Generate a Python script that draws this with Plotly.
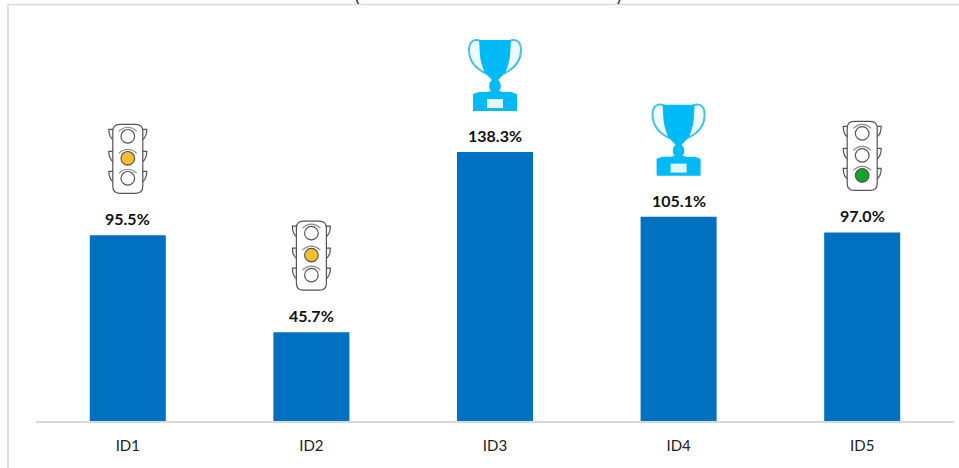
import plotly.graph_objects as go

categories = ["ID1", "ID2", "ID3", "ID4", "ID5"]
values = [95.5, 45.7, 138.3, 105.1, 97.0]
value_labels = ["95.5%", "45.7%", "138.3%", "105.1%", "97.0%"]
icons = ["amber", "amber", "trophy", "trophy", "green"]

BAR = "#0070C0"
TROPHY = "#00BAF8"
AMBER = "#F6C02C"
GREEN = "#12A52A"
EDGE = "#555555"
GRID = "#D9D9D9"
FONT = "Lato, 'Open Sans', sans-serif"


def anchored(cat, val, path, **kw):
    return dict(type="path", path=path, xref="x", yref="y",
                xsizemode="pixel", ysizemode="pixel",
                xanchor=cat, yanchor=val, layer="above", **kw)


def circle(cx, cy, r):
    k = 0.5523 * r
    return (f"M{cx - r},{cy} C{cx - r},{cy + k} {cx - k},{cy + r} {cx},{cy + r} "
            f"C{cx + k},{cy + r} {cx + r},{cy + k} {cx + r},{cy} "
            f"C{cx + r},{cy - k} {cx + k},{cy - r} {cx},{cy - r} "
            f"C{cx - k},{cy - r} {cx - r},{cy - k} {cx - r},{cy} Z")


def traffic_light(cat, val, lit):
    shapes = []
    line = dict(color=EDGE, width=1.2)
    centers = [99, 77, 57]
    for cy in centers:
        for s in (-1, 1):
            p = (f"M{s * 14},{cy + 7} L{s * 19},{cy + 7} "
                 f"Q{s * 19},{cy - 1} {s * 14},{cy - 4} Z")
            shapes.append(anchored(cat, val, p, line=line, fillcolor="#F7F7F7"))
    body = ("M-15,49 Q-15,42 -8,42 L8,42 Q15,42 15,49 L15,104 "
            "Q15,111 8,111 L-8,111 Q-15,111 -15,104 Z")
    shapes.append(anchored(cat, val, body, line=line, fillcolor="white"))
    for i, cy in enumerate(centers):
        on = (lit == "amber" and i == 1) or (lit == "green" and i == 2)
        fill = {"amber": AMBER, "green": GREEN}[lit] if on else "white"
        shapes.append(anchored(cat, val, circle(0, cy, 6.8), line=line, fillcolor=fill))
        arc = f"M-9,{cy + 5} Q0,{cy + 13} 9,{cy + 5}"
        shapes.append(anchored(cat, val, arc, line=dict(color="#8A8A8A", width=1.1)))
    return shapes


def trophy(cat, val):
    shapes = []
    for s in (-1, 1):
        h = (f"M{s * 14},111 C{s * 22},114 {s * 26},110 {s * 26},102 "
             f"C{s * 26},92 {s * 20},84 {s * 10},79 Z")
        shapes.append(anchored(cat, val, h, line=dict(color="#45C2E8", width=2),
                               fillcolor="#EEFAFE"))
    cup = ("M-16,112 L16,112 L15,96 C14,88 11,81 9,78 L3,72 C6,70 7,64 4,61 "
           "L8,60 L16,60 L22,58 L22,41 L-22,41 L-22,58 L-16,60 L-8,60 L-4,61 "
           "C-7,64 -6,70 -3,72 L-9,78 C-11,81 -14,88 -15,96 Z")
    shapes.append(anchored(cat, val, cup, line=dict(width=0), fillcolor=TROPHY))
    plate = "M-8,53 L8,53 L8,44 L-8,44 Z"
    shapes.append(anchored(cat, val, plate, line=dict(width=0), fillcolor="#E2F7FE"))
    return shapes


fig = go.Figure(go.Bar(
    x=categories, y=values, cliponaxis=False,
    marker=dict(color=BAR, line=dict(width=0)), hoverinfo="skip",
))

shapes = []
for c, v, icon in zip(categories, values, icons):
    shapes += trophy(c, v) if icon == "trophy" else traffic_light(c, v, icon)

frame_line = dict(color=GRID, width=1.5)
shapes += [
    dict(type="line", xref="paper", yref="paper", x0=-28 / 918, x1=923 / 918,
         y0=416.5 / 421, y1=416.5 / 421, line=frame_line, layer="above"),
    dict(type="line", xref="paper", yref="paper", x0=-28 / 918, x1=-28 / 918,
         y0=-47 / 421, y1=416.5 / 421, line=frame_line, layer="above"),
]

annotations = [
    dict(text=t, x=c, y=v, xref="x", yref="y", yanchor="bottom", xanchor="center",
         showarrow=False, yshift=5,
         font=dict(family=FONT, size=16, color="#111111", weight="bold"))
    for c, v, t in zip(categories, values, value_labels)
]
for t, px in (("(", 357), (")", 619)):
    annotations.append(
        dict(text=t, xref="paper", yref="paper", x=(px - 36) / 918, y=1,
             yanchor="bottom", xanchor="center", showarrow=False, yshift=-7,
             font=dict(family=FONT, size=16, color="#222222")))

fig.update_layout(
    width=959, height=468, autosize=False,
    margin=dict(l=36, r=5, t=0, b=47, pad=0),
    paper_bgcolor="white", plot_bgcolor="white",
    bargap=0.586, showlegend=False,
    font=dict(family=FONT, color="#222222"),
    xaxis=dict(type="category", showline=True, linecolor=GRID, linewidth=1.5,
               ticks="", showgrid=False, zeroline=False,
               tickfont=dict(family=FONT, size=15, color="#222222"), ticklabelstandoff=10),
    yaxis=dict(range=[0, 216.5], visible=False, showgrid=False, zeroline=False),
    shapes=shapes,
    annotations=annotations,
)

fig.write_html("out.html", config={"displayModeBar": False},
               post_script="document.body.style.margin='0';document.body.style.overflow='hidden';")
